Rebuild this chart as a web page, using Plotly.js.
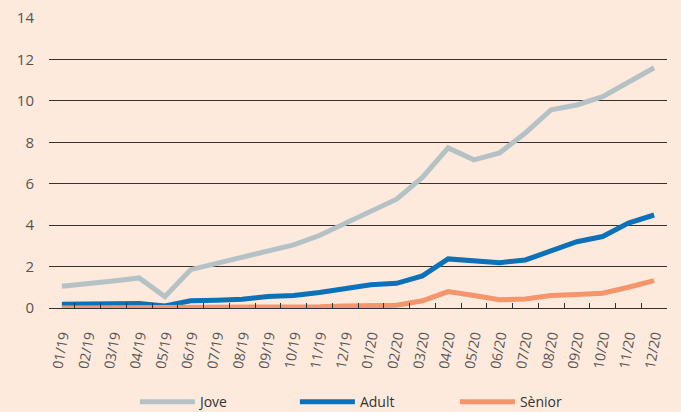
<!DOCTYPE html>
<html>
<head>
<meta charset="utf-8">
<script src="https://cdn.plot.ly/plotly-3.0.1.min.js"></script>
<style>
html,body{margin:0;padding:0;background:#fdeadd;}
#chart{width:681px;height:412px;}
</style>
</head>
<body>
<div id="chart"></div>
<script>
const months = ["01/19","02/19","03/19","04/19","05/19","06/19","07/19","08/19","09/19","10/19","11/19","12/19",
                "01/20","02/20","03/20","04/20","05/20","06/20","07/20","08/20","09/20","10/20","11/20","12/20"];
const jove   = [1.05,1.15,1.3,1.45,0.55,1.85,2.15,2.4,2.7,3.05,3.5,4.1,4.7,5.25,6.3,7.73,7.15,7.49,8.45,9.57,9.8,10.2,10.9,11.6];
const adult  = [0.18,0.18,0.2,0.22,0.1,0.35,0.38,0.42,0.55,0.6,0.75,0.95,1.12,1.19,1.55,2.37,2.28,2.19,2.32,2.75,3.2,3.45,4.1,4.49];
const senior = [0,0,0,0,0,0.01,0.02,0.03,0.04,0.05,0.06,0.1,0.12,0.13,0.35,0.79,0.6,0.4,0.43,0.6,0.65,0.71,1.0,1.32];
const seriesNames = ["Jove","Adult","Sènior"];
const colors = ["#b4c2c6","#0b71b8","#f4956b"];

const data = [jove, adult, senior].map((vals, i) => ({
  type: "scatter",
  mode: "lines",
  x: months,
  y: vals,
  name: seriesNames[i],
  line: {color: colors[i], width: 5}
}));

const layout = {
  width: 681,
  height: 412,
  paper_bgcolor: "#fdeadd",
  plot_bgcolor: "#fdeadd",
  margin: {l: 49, r: 14, t: 18, b: 104},
  font: {family: "Open Sans, sans-serif", size: 13, color: "#555"},
  showlegend: true,
  legend: {
    orientation: "h",
    xref: "paper", yref: "container",
    x: 0.139, xanchor: "left",
    y: 0.024, yanchor: "middle",
    font: {size: 14, color: "#333"},
    itemwidth: 55,
    entrywidth: 90,
    entrywidthmode: "pixels",
    bgcolor: "rgba(0,0,0,0)"
  },
  xaxis: {
    type: "category",
    automargin: false,
    range: [-0.5, 23.5],
    showgrid: false,
    zeroline: false,
    showline: true,
    linecolor: "#333",
    linewidth: 1,
    ticks: "inside",
    tickson: "boundaries",
    ticklen: 5,
    tickcolor: "#333",
    tickangle: -80,
    ticklabelstandoff: 13,
    tickfont: {size: 14, color: "#555"}
  },
  yaxis: {
    automargin: false,
    range: [0, 14],
    dtick: 2,
    tick0: 0,
    showgrid: true,
    gridcolor: "#333",
    gridwidth: 1,
    zeroline: false,
    showline: false,
    ticks: "",
    ticklabelstandoff: 14,
    tickfont: {size: 15, color: "#555"}
  }
};

Plotly.newPlot("chart", data, layout, {displayModeBar: false, staticPlot: true});
</script>
</body>
</html>
